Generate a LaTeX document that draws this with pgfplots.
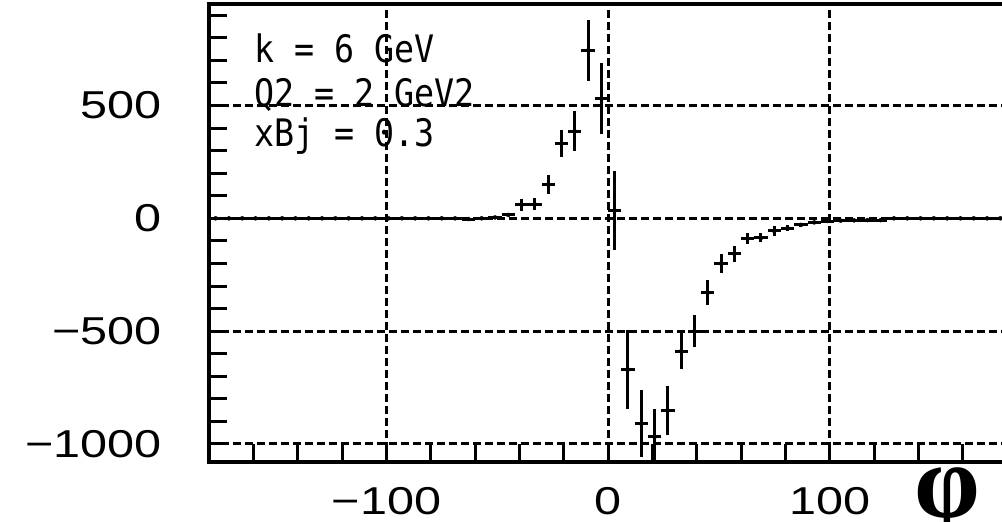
\documentclass[border=0pt]{standalone}
\usepackage{pgfplots}
\pgfplotsset{compat=1.18}
\usepackage{fontspec}
\newfontfamily\tickfont[FakeStretch=1.25]{Liberation Sans}
\newfontfamily\monofont[FakeStretch=0.88]{DejaVu Sans Mono}
\newfontfamily\phifont{Liberation Serif}
\begin{document}
\begin{tikzpicture}
\useasboundingbox (0,0) rectangle (1002bp,522bp);
\begin{axis}[
  at={(209bp,60bp)}, anchor=south west,
  width=798bp, height=458bp, scale only axis,
  xmin=-180, xmax=180, ymin=-1080, ymax=950,
  axis line style={line width=4bp, black},
  xtick={-100,0,100}, xticklabels={−100,0,100},
  minor xtick={-180,-160,...,180},
  ytick={-1000,-500,0,500}, yticklabels={−1000,−500,0,500},
  minor ytick={-1000,-900,...,900},
  tick align=inside, tick pos=left,
  major tick length=18bp, minor tick length=18bp,
  tick style={line width=3bp, black},
  grid=major,
  major grid style={line width=3bp, dash pattern=on 8bp off 4bp, black},
  ticklabel style={font=\tickfont\fontsize{39}{40}\selectfont, inner sep=0pt},
  yticklabel style={xshift=-47bp},
  xticklabel style={yshift=-25bp},
]
\addplot[black, only marks, mark=none,
  error bars/.cd, x dir=both, x explicit, y dir=both, y explicit,
  error mark=none, error bar style={line width=3bp, black, solid}]
  table[x=x, y=y, x error=ex, y error=ey] {
x y ex ey
-177 0 3 0
-171 0 3 0
-165 0 3 0
-159 0 3 0
-153 0 3 0
-147 0 3 0
-141 0 3 0
-135 0 3 0
-129 0 3 0
-123 0 3 0
-117 0 3 0
-111 0 3 0
-105 0 3 0
-99 0 3 0
-93 0 3 0
-87 0 3 0
-81 0 3 0
-75 0 3 0
-69 0 3 0
-63 -3 3 6
-57 0 3 2
-51 4 3 3
-45 15 3 6
-39 60 3 27
-33 62 3 27
-27 150 3 40
-21 332 3 60
-15 386 3 88
-9 744 3 135
-3 531 3 158
3 35 3 175
9 -670 3 175
15 -910 3 150
21 -969 3 125
27 -852 3 108
33 -589 3 80
39 -500 3 70
45 -330 3 55
51 -200 3 43
57 -157 3 35
63 -90 3 25
69 -87 3 20
75 -56 3 22
81 -43 3 12
87 -29 3 10
93 -18 3 8
99 -12 3 6
105 -10 3 5
111 -9 3 4
117 -8 3 3
123 -8 3 3
129 0 3 0
135 0 3 0
141 0 3 0
147 0 3 0
153 0 3 0
159 0 3 0
165 0 3 0
171 0 3 0
177 0 3 0
};
\end{axis}
\begin{scope}[every node/.style={anchor=base west, inner sep=0pt, font=\monofont\fontsize{38}{40}\selectfont}]
\node at (254bp,459bp) {k = 6 GeV};
\node at (254bp,415bp) {Q2 = 2 GeV2};
\node at (254bp,375bp) {xBj = 0.3};
\end{scope}
\node[anchor=base, inner sep=0pt, font=\phifont\bfseries\fontsize{106}{106}\selectfont] at (947bp,5bp) {φ};
\node[anchor=base west, inner sep=0pt, font=\fontsize{36}{40}\selectfont] at (-12bp,-32bp) {FIG. 3: Simulated data points for the difference of $d\Sigma$ for different values of};
\end{tikzpicture}
\end{document}
